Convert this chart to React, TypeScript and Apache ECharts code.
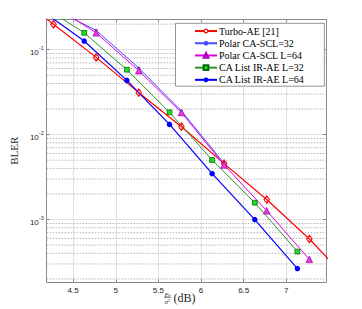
import React, { useEffect, useRef } from "react";
import * as echarts from "echarts";

const SANS = "Liberation Sans, Arial, Helvetica, sans-serif";
const SERIF = "Liberation Serif, Times New Roman, serif";
const AXIS_COLOR = "#262626";

// Data (Eb/sigma^2 in dB, BLER)
const turboX = [3.77, 4.27, 4.77, 5.27, 5.77, 6.27, 6.77, 7.27, 7.77];
const turboY = [0.48, 0.199, 0.0812, 0.0312, 0.0124, 0.00456, 0.00172, 0.00059, 0.000175];
const polar32X = [4.27, 4.77, 5.27, 5.77, 6.27];
const polar32Y = [0.3, 0.169, 0.0608, 0.019, 0.0046];
const polar64X = [4.27, 4.77, 5.27, 5.77, 6.27, 6.77, 7.27];
const polar64Y = [0.33, 0.158, 0.0567, 0.0182, 0.0044, 0.00127, 0.00034];
const ca32X = [4.13, 4.63, 5.13, 5.63, 6.13, 6.63, 7.13];
const ca32Y = [0.33, 0.158, 0.0581, 0.0183, 0.00503, 0.00158, 0.00042];
const ca64X = [4.13, 4.63, 5.13, 5.63, 6.13, 6.63, 7.13];
const ca64Y = [0.29, 0.1264, 0.0435, 0.0132, 0.00347, 0.001, 0.000265];

const seriesNames = [
  "Turbo-AE [21]",
  "Polar CA-SCL=32",
  "Polar CA-SCL L=64",
  "CA List IR-AE L=32",
  "CA List IR-AE L=64",
];

// Axis ranges and grid ticks
const xMin = 4.19;
const xMax = 7.465;
const yMin = 0.000184;
const yMax = 0.228;
const decades = [-4, -3, -2, -1];
const minorMultipliers = [2, 3, 4, 5, 6, 7, 8, 9];

const zip = (xs: number[], ys: number[]) => xs.map((x, i) => [x, ys[i]]);

export default function App() {
  const ref = useRef<HTMLDivElement>(null);
  useEffect(() => {
    document.body.style.margin = "0";
    if (!ref.current) return;
    const chart = echarts.init(ref.current, undefined, { renderer: "svg" });

    const minorVals: number[] = [];
    decades.forEach((d) =>
      minorMultipliers.forEach((m) => {
        const v = m * Math.pow(10, d);
        if (v > yMin && v < yMax) minorVals.push(v);
      })
    );

    const turboSymbol =
      "path://M5 0 L9 5 L5 10 L1 5 Z M8.4 5 A3.4 3.4 0 1 1 1.6 5 A3.4 3.4 0 1 1 8.4 5 Z";

    const option: any = {
      animation: false,
      backgroundColor: "#ffffff",
      grid: { left: 34.3, right: 36, top: 19.3, bottom: 27 },
      legend: {
        orient: "vertical",
        left: 175.5,
        top: 23.3,
        itemWidth: 22,
        itemHeight: 6,
        itemGap: 0.5,
        padding: [1.9, 20, 0.5, 18.5],
        backgroundColor: "#ffffff",
        borderColor: "#7a7a7a",
        borderWidth: 0.8,
        borderRadius: 0,
        textStyle: {
          fontFamily: SERIF,
          fontSize: 10,
          lineHeight: 11.7,
          color: "#000",
          padding: [0, 0, 0, -3],
        },
        data: [
          {
            name: seriesNames[0],
            itemStyle: { color: "#ffffff", borderColor: "#ff0000", borderWidth: 1 },
          },
          seriesNames[1],
          seriesNames[2],
          seriesNames[3],
          seriesNames[4],
        ],
      },
      xAxis: [
        {
          type: "value",
          min: xMin,
          max: xMax,
          position: "bottom",
          axisLine: { show: true, onZero: false, lineStyle: { color: "#8a8a8a", width: 1 } },
          axisTick: { show: true, inside: true, length: 3, lineStyle: { color: "#8a8a8a" } },
          axisLabel: {
            show: true,
            showMinLabel: false,
            showMaxLabel: false,
            margin: 4,
            fontFamily: SANS,
            fontSize: 8,
            color: AXIS_COLOR,
          },
          splitLine: { show: true, lineStyle: { color: "#e0e0e0", width: 1 } },
        },
        {
          type: "value",
          min: xMin,
          max: xMax,
          position: "top",
          axisLine: { show: true, onZero: false, lineStyle: { color: "#8a8a8a", width: 1 } },
          axisTick: { show: true, inside: true, length: 3, lineStyle: { color: "#8a8a8a" } },
          axisLabel: { show: false },
          splitLine: { show: false },
        },
      ],
      yAxis: [
        {
          type: "log",
          logBase: 10,
          min: yMin,
          max: yMax,
          position: "left",
          name: "BLER",
          nameLocation: "middle",
          nameGap: 18,
          nameTextStyle: { fontFamily: SERIF, fontSize: 11, color: AXIS_COLOR },
          axisLine: { show: true, onZero: false, lineStyle: { color: "#8a8a8a", width: 1 } },
          axisTick: { show: true, inside: true, length: 3, lineStyle: { color: "#8a8a8a" } },
          axisLabel: {
            show: true,
            showMinLabel: false,
            showMaxLabel: false,
            margin: 3,
            formatter: (v: number) => {
              const e = Math.round(Math.log10(v));
              return `{b|10}{s|${e}}`;
            },
            rich: {
              b: { fontFamily: SANS, fontSize: 8, color: AXIS_COLOR, padding: [5, 0, 0, 0] },
              s: { fontFamily: SANS, fontSize: 5.5, color: AXIS_COLOR, padding: [0, 0, 4, 0] },
            },
          },
          splitLine: { show: true, lineStyle: { color: "#e0e0e0", width: 1 } },
        },
        {
          type: "log",
          logBase: 10,
          min: yMin,
          max: yMax,
          position: "right",
          axisLine: { show: true, onZero: false, lineStyle: { color: "#8a8a8a", width: 1 } },
          axisTick: { show: true, inside: true, length: 3, lineStyle: { color: "#8a8a8a" } },
          axisLabel: { show: false },
          splitLine: { show: false },
        },
      ],
      graphic: [
        {
          type: "text",
          x: 167.5,
          y: 294,
          style: {
            text: "{e|E}{b|b}",
            textAlign: "center",
            textVerticalAlign: "middle",
            rich: {
              e: { fontFamily: SERIF, fontSize: 6.5, fontStyle: "italic", fill: AXIS_COLOR },
              b: { fontFamily: SERIF, fontSize: 4.5, fontStyle: "italic", fill: AXIS_COLOR, padding: [3, 0, 0, 0] },
            },
          },
        },
        {
          type: "line",
          shape: { x1: 164, y1: 297.5, x2: 171.5, y2: 297.5 },
          style: { stroke: AXIS_COLOR, lineWidth: 0.5 },
        },
        {
          type: "text",
          x: 167.5,
          y: 301.5,
          style: {
            text: "{e|σ}{s|2}",
            textAlign: "center",
            textVerticalAlign: "middle",
            rich: {
              e: { fontFamily: SERIF, fontSize: 6.5, fontStyle: "italic", fill: AXIS_COLOR },
              s: { fontFamily: SERIF, fontSize: 4.5, fill: AXIS_COLOR, padding: [0, 0, 3, 0] },
            },
          },
        },
        {
          type: "text",
          x: 173.5,
          y: 298,
          style: {
            text: "(dB)",
            fontFamily: SERIF,
            fontSize: 12,
            fill: AXIS_COLOR,
            textAlign: "left",
            textVerticalAlign: "middle",
          },
        },
      ],
      series: [
        {
          name: "minor-grid",
          type: "custom",
          silent: true,
          z: 1,
          clip: true,
          xAxisIndex: 0,
          yAxisIndex: 0,
          data: minorVals.map((v) => [xMin, v]),
          encode: { x: 0, y: 1 },
          renderItem: (params: any, api: any) => {
            const v = api.value(1);
            const p1 = api.coord([xMin, v]);
            const p2 = api.coord([xMax, v]);
            return {
              type: "line",
              shape: { x1: p1[0], y1: p1[1], x2: p2[0], y2: p2[1] },
              style: { stroke: "#b4b4b4", lineWidth: 1, lineDash: [1.5, 1.5] },
            };
          },
        },
        {
          name: seriesNames[0],
          type: "line",
          data: zip(turboX, turboY),
          clip: true,
          symbol: turboSymbol,
          symbolSize: [5.5, 7.5],
          lineStyle: { color: "#ff0000", width: 1.2 },
          itemStyle: { color: "rgba(255,255,255,0)", borderColor: "#ff0000", borderWidth: 1 },
        },
        {
          name: seriesNames[1],
          type: "line",
          data: zip(polar32X, polar32Y),
          clip: true,
          symbol: "circle",
          symbolSize: 3,
          lineStyle: { color: "#4a4aff", width: 1 },
          itemStyle: { color: "#4a4aff" },
        },
        {
          name: seriesNames[2],
          type: "line",
          data: zip(polar64X, polar64Y),
          clip: true,
          symbol: "triangle",
          symbolSize: 6.5,
          lineStyle: { color: "#e000e0", width: 1 },
          itemStyle: { color: "#e040e0", borderColor: "#b000b0", borderWidth: 0.8 },
        },
        {
          name: seriesNames[3],
          type: "line",
          data: zip(ca32X, ca32Y),
          clip: true,
          symbol: "rect",
          symbolSize: 4.8,
          lineStyle: { color: "#2a962a", width: 1 },
          itemStyle: { color: "#22dd22", borderColor: "#0a6a0a", borderWidth: 0.8 },
        },
        {
          name: seriesNames[4],
          type: "line",
          data: zip(ca64X, ca64Y),
          clip: true,
          symbol: "circle",
          symbolSize: 5.5,
          lineStyle: { color: "#0000ff", width: 1.2 },
          itemStyle: { color: "#0000ff" },
        },
      ],
    };
    chart.setOption(option);
    return () => chart.dispose();
  }, []);
  return <div ref={ref} style={{ width: 362, height: 309 }} />;
}
